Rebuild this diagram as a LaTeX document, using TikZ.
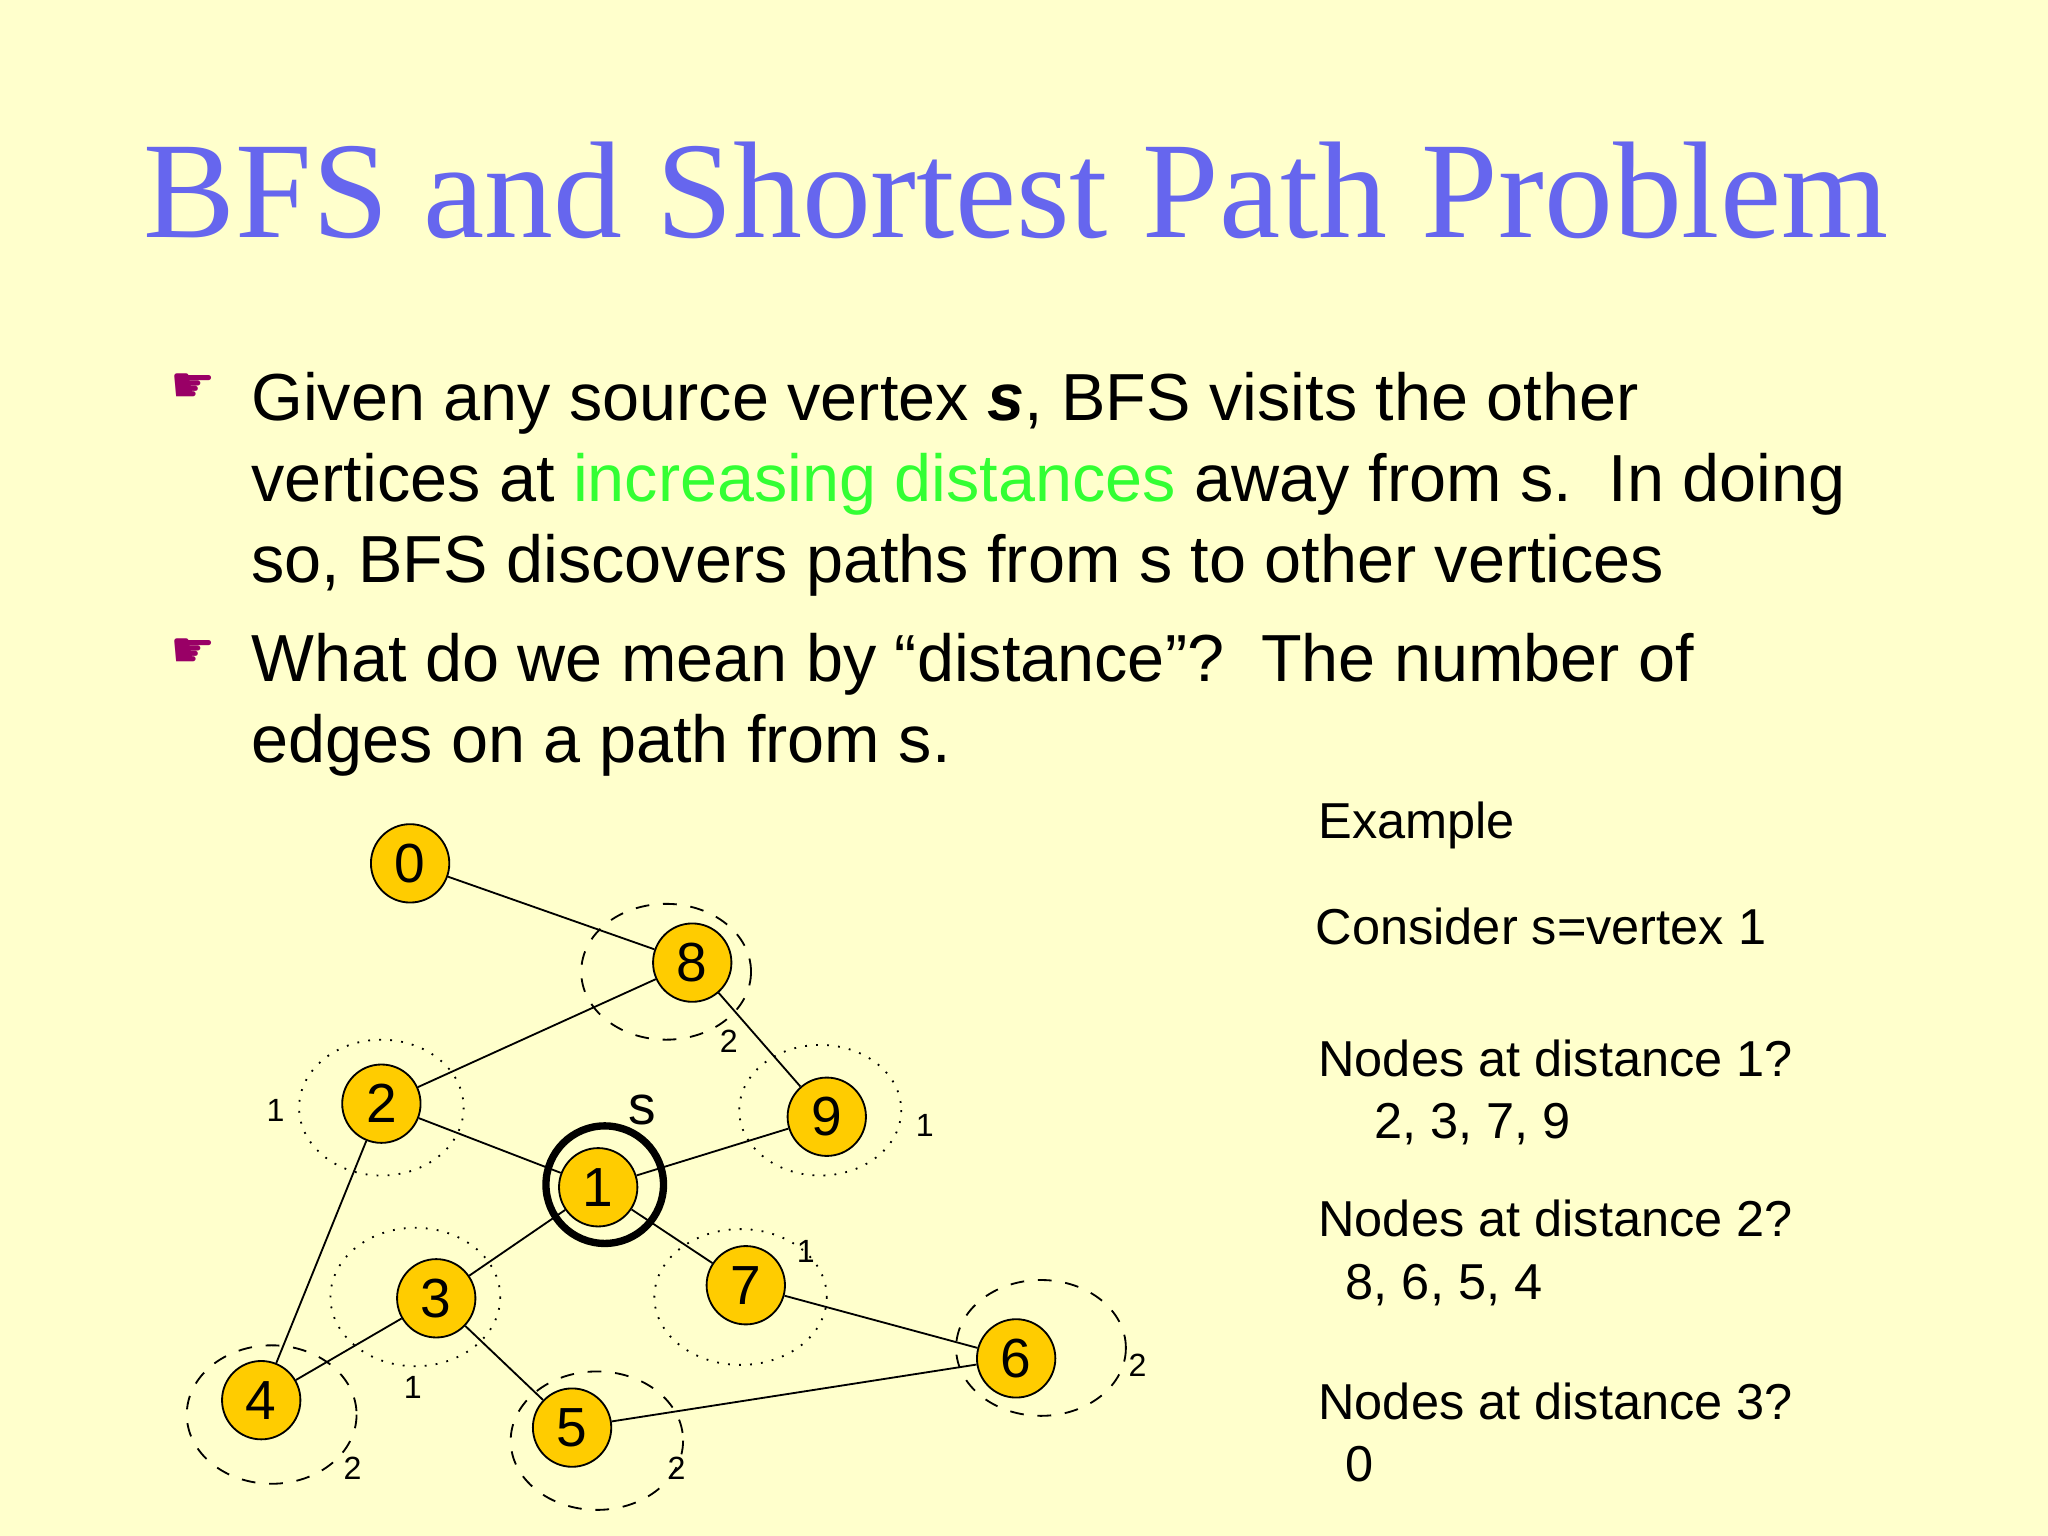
\documentclass[tikz,border=0pt]{standalone}
\usepackage{fontspec}
\setmainfont{Liberation Sans}
\newfontfamily\ttl{Liberation Serif}
\newfontfamily\djfont{DejaVu Sans}
\definecolor{bgc}{HTML}{FFFFCC}
\definecolor{ttlc}{HTML}{6666EE}
\definecolor{grn}{HTML}{33FF33}
\definecolor{gold}{HTML}{FFCC00}
\definecolor{hand}{HTML}{990066}
\tikzset{v/.style={circle,draw,fill=gold,minimum size=6mm,inner sep=0pt,font=\fontsize{12}{12}\selectfont},
el/.style={font=\fontsize{7}{7}\selectfont},
rt/.style={anchor=base west,font=\fontsize{11}{13}\selectfont},
bl/.style={anchor=base west,font=\fontsize{14.5}{18}\selectfont},
dsh/.style={dashed,thin},dtt/.style={dotted,thin}}
\begin{document}
\begin{tikzpicture}[x=0.1mm,y=-0.1mm]
\fill[bgc] (0,0) rectangle (1568,1176);
\useasboundingbox (0,0) rectangle (1568,1176);
\node[anchor=base,text=ttlc,font=\ttl\fontsize{30}{30}\selectfont] (title) at (778,182) {BFS and Shortest Path Problem};
\node[anchor=base west,text=hand,font=\djfont\fontsize{11}{11}\selectfont] (h1) at (118,308) {☛};
\node[anchor=base west,text=hand,font=\djfont\fontsize{11}{11}\selectfont] (h2) at (118,511) {☛};
\node[bl] (b1) at (180,322) {Given any source vertex \textbf{\textit{s}}, BFS visits the other};
\node[bl] (b2) at (180,384) {vertices at \textcolor{grn}{increasing distances} away from s.\ \ In doing};
\node[bl] (b3) at (180,446) {so, BFS discovers paths from s to other vertices};
\node[bl] (b4) at (180,522) {What do we mean by “distance”?\ \ The number of};
\node[bl] (b5) at (180,584) {edges on a path from s.};
\node[rt] (r1) at (997,642) {Example};
\node[rt] (r2) at (995,723) {Consider s=vertex 1};
\node[rt] (r3) at (997,824) {Nodes at distance 1?};
\node[rt] (r4) at (1040,872) {2, 3, 7, 9};
\node[rt] (r5) at (997,947) {Nodes at distance 2?};
\node[rt] (r6) at (1018,995) {8, 6, 5, 4};
\node[rt] (r7) at (997,1087) {Nodes at distance 3?};
\node[rt] (r8) at (1018,1134) {0};
% ellipses
\draw[dsh] (510,744) ellipse (65 and 52);
\draw[dtt] (292,848) ellipse (63 and 52);
\draw[dtt] (628,850) ellipse (62 and 50);
\draw[dtt] (318,993) ellipse (65 and 53);
\draw[dtt] (567,993) ellipse (66 and 52);
\draw[dsh] (797,1032) ellipse (65 and 52);
\draw[dsh] (208,1083) ellipse (65 and 53);
\draw[dsh] (457,1103) ellipse (66 and 53);
\draw[line width=1.6pt] (463,907) circle (45);
% vertices
\node[v] (n0) at (314,661) {0};
\node[v] (n8) at (530,737) {8};
\node[v] (n2) at (292,845) {2};
\node[v] (n9) at (633,855) {9};
\node[v] (n1) at (458,909) {1};
\node[v] (n3) at (334,994) {3};
\node[v] (n7) at (571,984) {7};
\node[v] (n6) at (778,1040) {6};
\node[v] (n4) at (200,1072) {4};
\node[v] (n5) at (438,1093) {5};
\foreach \a/\b in {0/8,8/2,8/9,2/1,1/9,1/3,1/7,2/4,3/4,3/5,7/6,5/6} \draw[thin] (n\a) -- (n\b);
\node[el] (l1) at (558,797) {2};
\node[el] (l2) at (211,850) {1};
\node[font=\fontsize{12}{12}\selectfont] (ls) at (492,850) {s};
\node[el] (l3) at (708,862) {1};
\node[el] (l4) at (617,958) {1};
\node[el] (l5) at (871,1045) {2};
\node[el] (l6) at (316,1062) {1};
\node[el] (l7) at (270,1124) {2};
\node[el] (l8) at (518,1124) {2};
\end{tikzpicture}
\end{document}
